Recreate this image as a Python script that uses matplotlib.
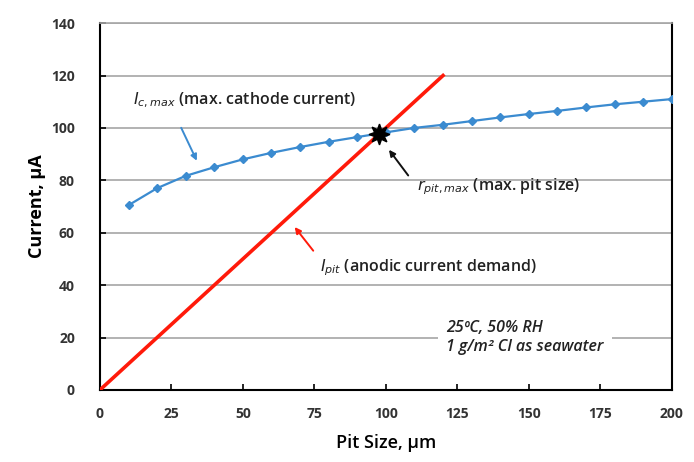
import matplotlib
matplotlib.use("Agg")
import matplotlib.pyplot as plt
import numpy as np

# Data
pit_size = [10, 20, 30, 40, 50, 60, 70, 80, 90, 100, 110, 120, 130, 140, 150, 160, 170, 180, 190, 200]
cathode_current = [70.5, 77.0, 81.7, 85.0, 88.0, 90.5, 92.7, 94.7, 96.5, 98.3, 100.0, 101.2, 102.6, 104.0, 105.3, 106.5, 107.8, 109.0, 110.0, 111.0]
anodic_x = [0, 120]
anodic_y = [0, 120]
intersect_x = [97.5]
intersect_y = [97.5]
x_ticks = [0, 25, 50, 75, 100, 125, 150, 175, 200]
y_ticks = [0, 20, 40, 60, 80, 100, 120, 140]

plt.rcParams['font.family'] = ['Open Sans', 'DejaVu Sans']
plt.rcParams['mathtext.fontset'] = 'dejavusans'

fig = plt.figure(figsize=(6.94, 4.62), dpi=100)
ax = fig.add_axes([0.144, 0.156, 0.824, 0.794])

ax.set_xlim(0, 200)
ax.set_ylim(0, 140)
ax.set_xticks(x_ticks)
ax.set_yticks(y_ticks)
ax.yaxis.grid(True, color='#a6a6a6', linewidth=1.2)
ax.set_axisbelow(True)

ax.plot(anodic_x, anodic_y, color='#ff1a0a', linewidth=2.6, zorder=3)
ax.plot(pit_size, cathode_current, color='#3b8bd0', linewidth=1.6, marker='D', markersize=4,
        markerfacecolor='#3b8bd0', markeredgecolor='#3b8bd0', zorder=4)
ax.plot(intersect_x, intersect_y, linestyle='none', marker=(8, 1, 0), markersize=15,
        color='black', zorder=5)

for side in ['left', 'bottom', 'right']:
    ax.spines[side].set_color('black')
    ax.spines[side].set_linewidth(1.5)
ax.spines['top'].set_color('#a6a6a6')
ax.spines['top'].set_linewidth(1.2)

ax.tick_params(axis='both', direction='in', length=4, width=1.2, colors='black', labelsize=10)
ax.tick_params(axis='y', pad=18)
ax.tick_params(axis='x', pad=12)
for lab in ax.get_xticklabels() + ax.get_yticklabels():
    lab.set_fontweight('bold')
    lab.set_color('#333333')

ax.set_xlabel('Pit Size, µm', fontsize=13, fontweight='semibold', labelpad=10)
ax.set_ylabel('Current, µA', fontsize=13, fontweight='bold', labelpad=4)

tcol = '#222222'
ax.text(11.5, 110.7, r'$I_{c,max}$ (max. cathode current)', fontsize=11.5, fontweight='semibold',
        color=tcol, va='center')
ax.text(111, 77.5, r'$r_{pit,max}$ (max. pit size)', fontsize=11.5, fontweight='semibold',
        color=tcol, va='center')
ax.text(77, 46.5, r'$I_{pit}$ (anodic current demand)', fontsize=11.5, fontweight='semibold',
        color=tcol, va='center')
ax.text(121, 20.0, '25ºC, 50% RH\n1 g/m² Cl as seawater', fontsize=11.5, style='italic',
        fontweight='semibold', color=tcol, va='center', ha='left', linespacing=1.3,
        bbox=dict(facecolor='white', edgecolor='none', pad=6))

ax.annotate('', xy=(34.3, 86.5), xytext=(28, 101),
            arrowprops=dict(arrowstyle='-|>', color='#3b8bd0', lw=1.4, mutation_scale=9))
ax.annotate('', xy=(100.5, 92.5), xytext=(108.4, 81),
            arrowprops=dict(arrowstyle='-|>', color='#111111', lw=1.4, mutation_scale=9))
ax.annotate('', xy=(67.5, 63), xytext=(75.2, 52.3),
            arrowprops=dict(arrowstyle='-|>', color='#ff1a0a', lw=1.4, mutation_scale=9))

fig.savefig('out.png', dpi=100)
